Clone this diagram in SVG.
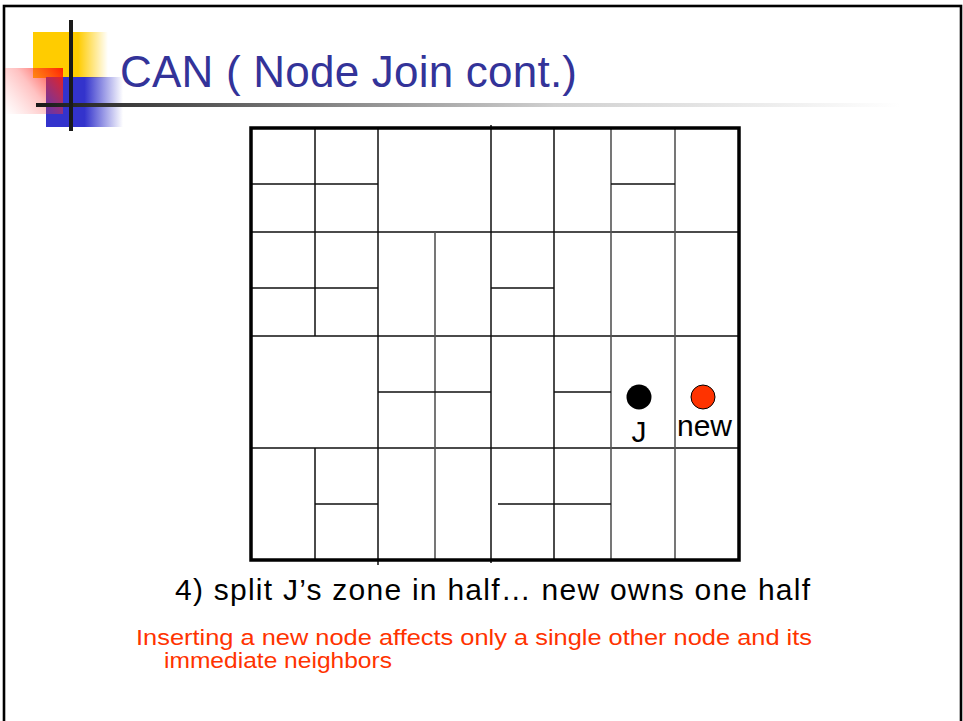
<svg xmlns="http://www.w3.org/2000/svg" width="963" height="721" viewBox="0 0 963 721">
<style>
.frame{fill:none;stroke:#000;stroke-width:2.6}
.outer{fill:none;stroke:#000;stroke-width:3.5}
.ln{stroke:#111;stroke-width:1.5;fill:none}
.lg{stroke:#555;stroke-width:1.6;fill:none}
.t{font-family:"Liberation Sans",Arial,sans-serif}
</style>
<defs>
<linearGradient id="gY" x1="33" y1="0" x2="108" y2="0" gradientUnits="userSpaceOnUse">
<stop offset="0" stop-color="#FFCC00"/><stop offset="0.6" stop-color="#FFCC00"/><stop offset="1" stop-color="#FFCC00" stop-opacity="0"/>
</linearGradient>
<linearGradient id="gB" x1="46" y1="0" x2="123" y2="0" gradientUnits="userSpaceOnUse">
<stop offset="0" stop-color="#3333CC"/><stop offset="0.5" stop-color="#3333CC"/><stop offset="1" stop-color="#3333CC" stop-opacity="0"/>
</linearGradient>
<linearGradient id="gR" x1="63" y1="68" x2="5" y2="114" gradientUnits="userSpaceOnUse">
<stop offset="0" stop-color="#FF1A00" stop-opacity="0.95"/><stop offset="0.5" stop-color="#FF3333" stop-opacity="0.3"/><stop offset="1" stop-color="#FF6666" stop-opacity="0"/>
</linearGradient>
<linearGradient id="gL" x1="36" y1="0" x2="900" y2="0" gradientUnits="userSpaceOnUse">
<stop offset="0" stop-color="#1a1a1a"/><stop offset="0.35" stop-color="#888"/><stop offset="0.6" stop-color="#d0d0d0"/><stop offset="1" stop-color="#fff"/>
</linearGradient>
</defs>
<rect width="963" height="721" fill="#fff"/>
<rect class="frame" x="4" y="6" width="957" height="730"/>
<g id="logo">
<rect x="33" y="32" width="75" height="46" fill="url(#gY)"/>
<rect x="46" y="77" width="77" height="50" fill="url(#gB)"/>
<rect x="5" y="68" width="58" height="46" fill="url(#gR)"/>
<rect x="36" y="103" width="864" height="4" fill="url(#gL)"/>
<rect x="69" y="20" width="4" height="111" fill="#1a1a1a"/>
</g>
<g id="title">
<text class="t" x="120" y="87" font-size="44" fill="#333399" textLength="457">CAN ( Node Join cont.)</text>
</g>
<g id="grid">
<path class="ln" d="M251 232H739M251 336H739M251 448H739"/>
<path class="ln" d="M315 128V336M315 448V560M378 128V565M491 125V563M554 128V560"/>
<path class="lg" d="M435 232V560M611 128V560M675 128V560"/>
<path class="ln" d="M251 184H378M611 184H675M251 288H378M491 288H554M378 392H491M554 392H611M315 504H378M498 504H611"/>
<rect class="outer" x="251" y="128" width="488" height="432"/>
</g>
<g id="nodeJ">
<circle cx="639" cy="397" r="12.5" fill="#000"/>
<text class="t" x="639" y="442" font-size="30" text-anchor="middle" fill="#000">J</text>
</g>
<g id="nodeNew">
<circle cx="703" cy="397" r="12" fill="#FF3300" stroke="#000" stroke-width="1"/>
<text class="t" x="677" y="436" font-size="30" fill="#000" textLength="55">new</text>
</g>
<g id="captions">
<text class="t" x="175" y="600" font-size="30" fill="#000" textLength="635">4) split J’s zone in half… new owns one half</text>
<text class="t" x="136" y="645" font-size="22.5" fill="#FF3300" textLength="676" lengthAdjust="spacingAndGlyphs">Inserting a new node affects only a single other node and its</text>
<text class="t" x="164" y="668" font-size="22.5" fill="#FF3300" textLength="228" lengthAdjust="spacingAndGlyphs">immediate neighbors</text>
</g>
</svg>
